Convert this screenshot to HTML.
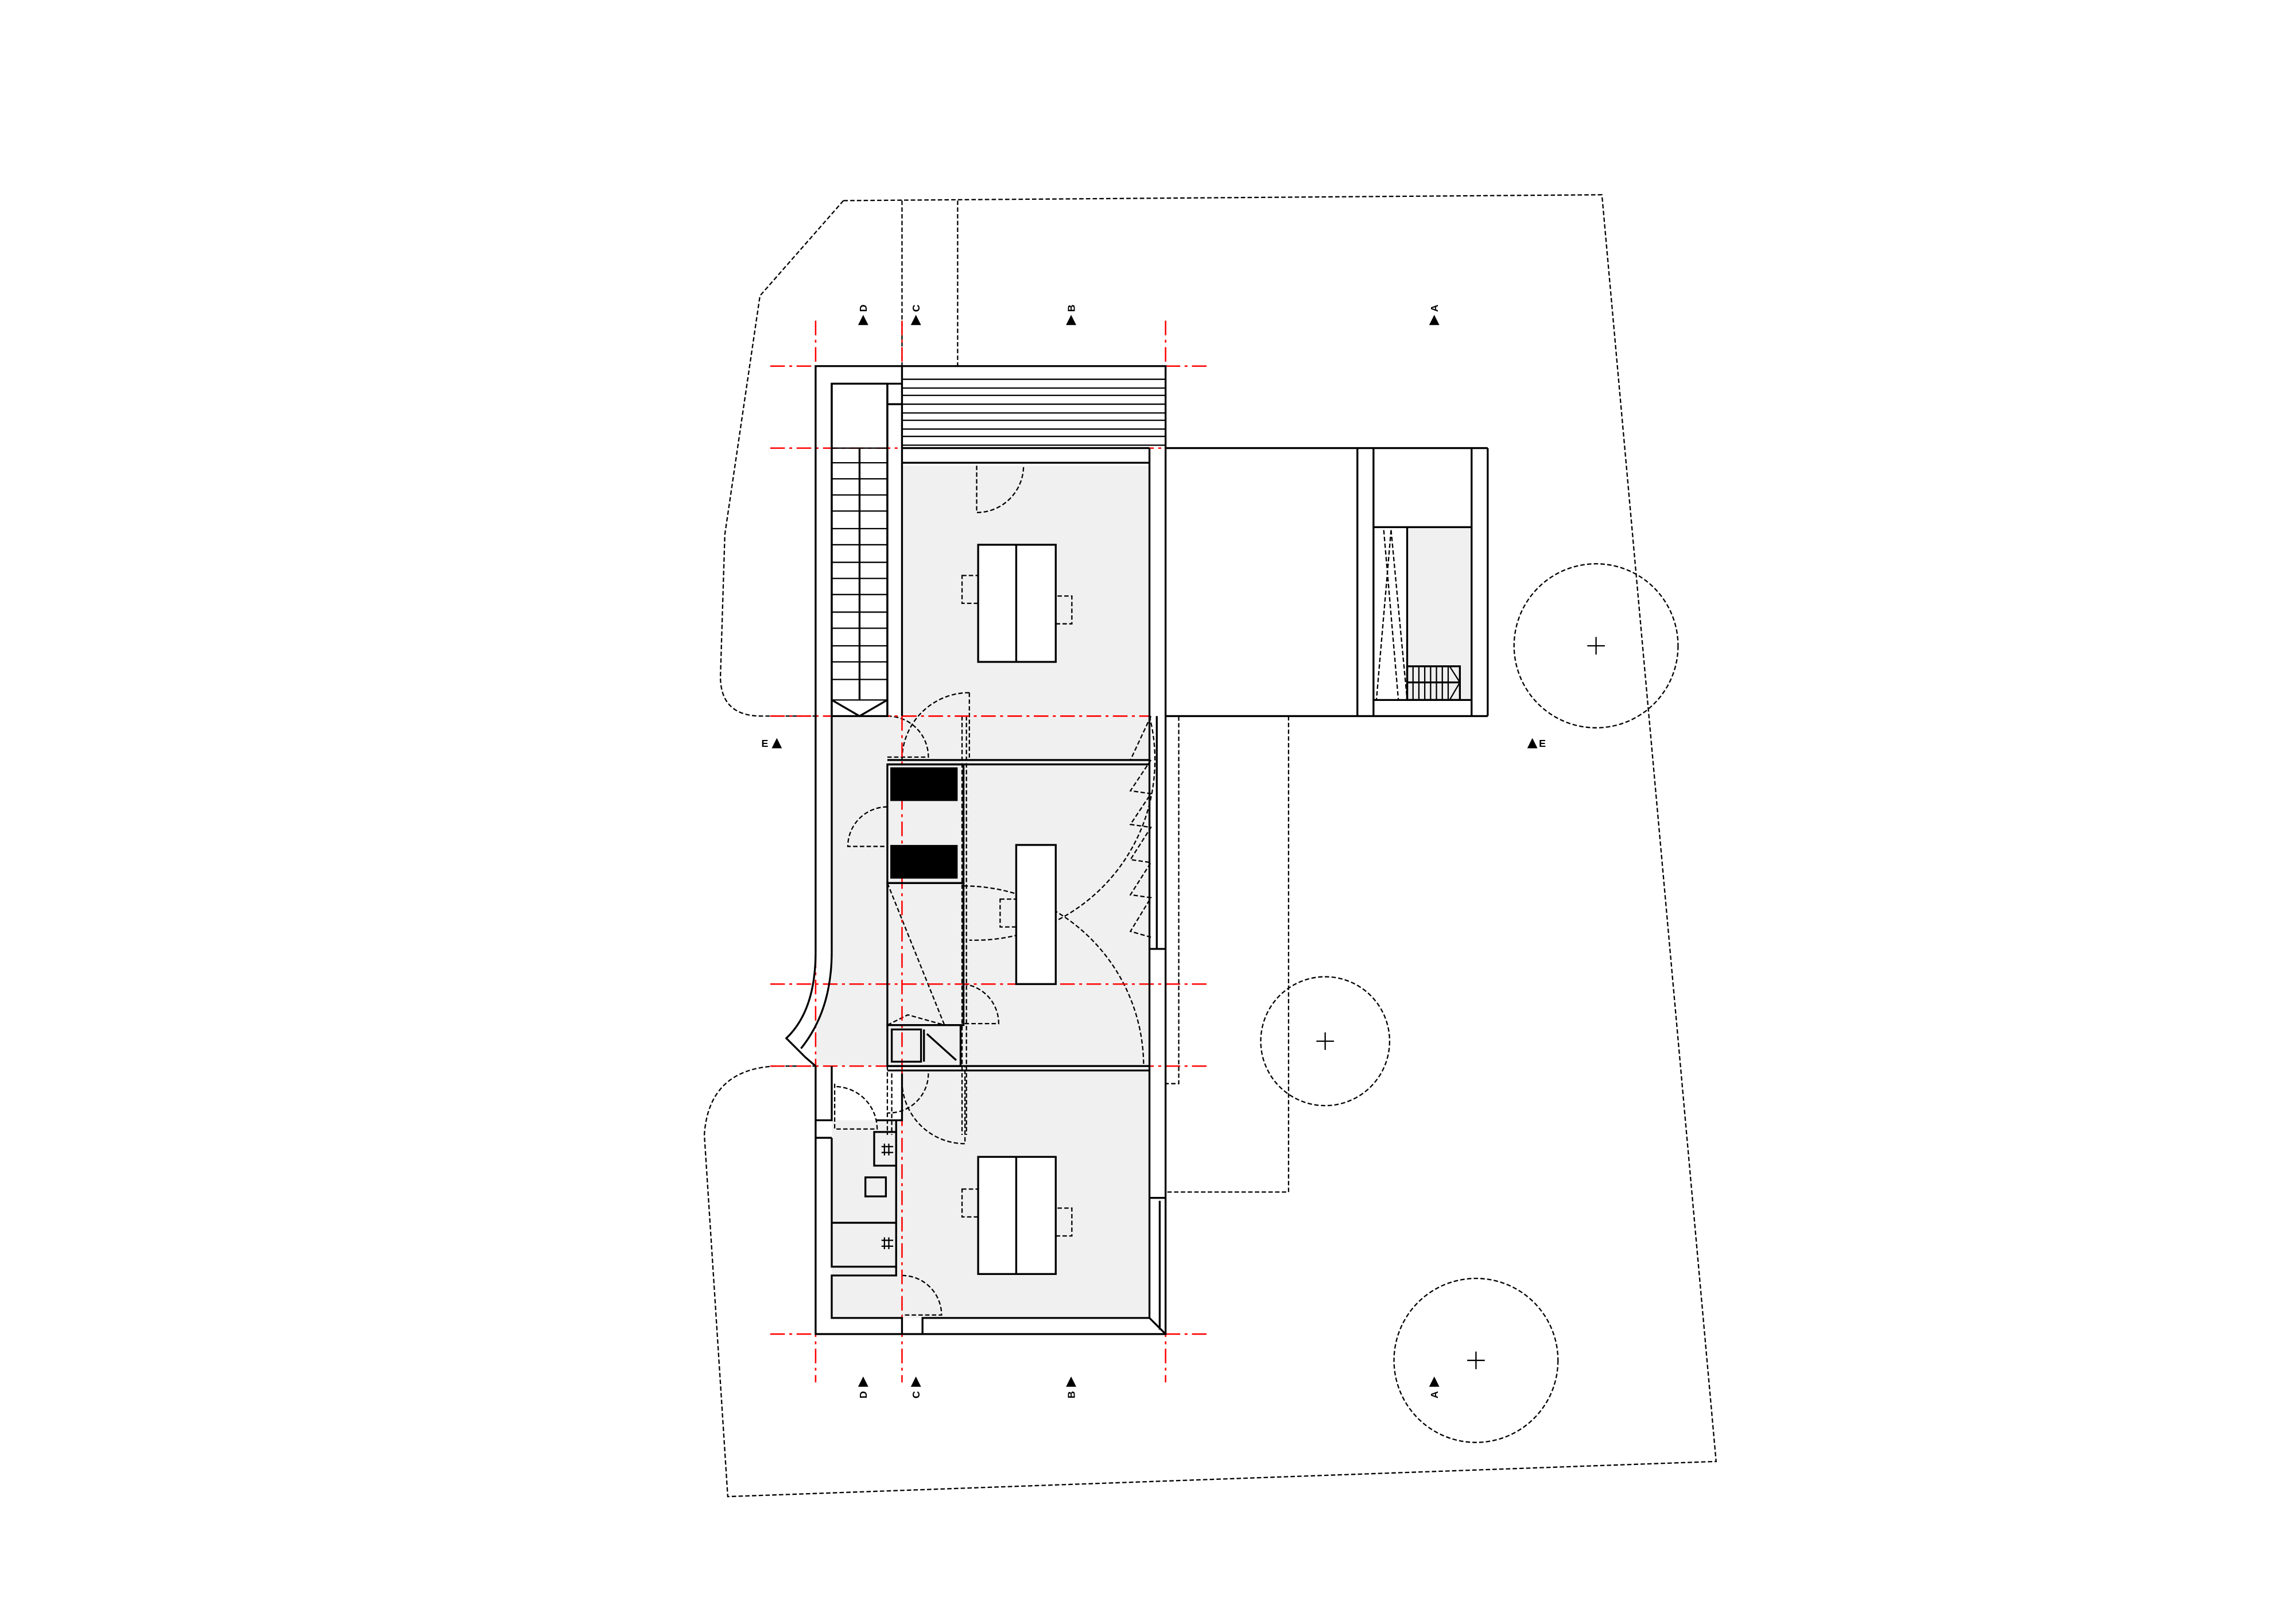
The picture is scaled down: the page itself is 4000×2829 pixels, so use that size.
<!DOCTYPE html>
<html><head><meta charset="utf-8"><style>
html,body{margin:0;padding:0;background:#fff;}
svg{display:block;}
text{font-family:"Liberation Sans",sans-serif;font-weight:bold;font-size:7px;}
</style></head><body>
<svg width="4000" height="2829" viewBox="0 0 1568 1109" xmlns="http://www.w3.org/2000/svg">
<rect x="0" y="0" width="1568" height="1109" fill="#fff"/>
<g fill="#f0f0f0">
<rect x="616" y="318" width="169" height="171"/>
<rect x="568" y="489" width="217" height="183"/>
<path d="M568 672 L785 672 L785 728 L557 728 L557 705 Z"/>
<rect x="616" y="731" width="169" height="169"/>
<rect x="568" y="765" width="48" height="135"/>
<rect x="961" y="360" width="44" height="118"/>
</g>
<g fill="none" stroke="#000" stroke-width="0.9" stroke-dasharray="3,1.6">
<path d="M576 137 L1094 133 L1172 998 L497 1022 L481 775 Q484 730 530 728 L557 728"/>
<path d="M576 137 L519 202 L495 365 L492 462 Q492 489 520 489 L557 489"/>
<line x1="616" y1="137" x2="616" y2="250"/>
<line x1="654" y1="137" x2="654" y2="250"/>
<circle cx="1090" cy="441" r="56"/>
<circle cx="905" cy="711" r="44"/>
<circle cx="1008" cy="929" r="56"/>
<path d="M880 489 L880 814 L796 814"/>
<rect x="796" y="489" width="9" height="251"/>
<path d="M667 318 L667 350 A32 32 0 0 0 699 318"/>
<path d="M662 473 L662 519 M662 473 A46 46 0 0 0 616 519"/>
<path d="M606 489 A28 28 0 0 1 634 517 L606 517"/>
<path d="M606 551 A27 27 0 0 0 579 578 L606 578"/>
<path d="M658 605 A123 123 0 0 1 781 728"/>
<path d="M785 489 A123 123 0 0 1 662 642"/>
<path d="M658 672 A27 27 0 0 1 682 699 L658 699"/>
<path d="M634 733 A27 27 0 0 1 606 760"/>
<path d="M616 738 A43 43 0 0 0 659 781 L659 728"/>
<path d="M570 740 L570 771 L599 771 A29 29 0 0 0 570 742"/>
<path d="M616 871 A27 27 0 0 1 643 898 L616 898"/>
<path d="M786 519 L772 540 L786 542 L772 563 L786 565 L772 587 L786 589 L772 611 L786 613 L772 636 L786 640"/>
<path d="M786 489 L772 519"/>
<path d="M606 603 L645 700 M606 700 L620 693 L645 700"/>
<line x1="657" y1="489" x2="657" y2="775"/>
<line x1="660" y1="489" x2="660" y2="775"/>
<line x1="606" y1="700" x2="606" y2="775"/>
<line x1="609" y1="733" x2="609" y2="775"/>
<rect x="657" y="393" width="19" height="19"/>
<rect x="713" y="407" width="19" height="19"/>
<rect x="683" y="614" width="19" height="19"/>
<rect x="657" y="812" width="19" height="19"/>
<rect x="713" y="825" width="19" height="19"/>
<path d="M950 362 L940 478 M950 362 L961 478 M945 362 L955 478"/>
</g>
<g stroke="#f00" stroke-width="1" stroke-dasharray="10,3,2,3" fill="none">
<line x1="526" y1="250" x2="826" y2="250"/>
<line x1="526" y1="306" x2="796" y2="306"/>
<line x1="526" y1="489" x2="785" y2="489"/>
<line x1="526" y1="672" x2="826" y2="672"/>
<line x1="526" y1="728" x2="826" y2="728"/>
<line x1="526" y1="911" x2="826" y2="911"/>
<line x1="557" y1="219" x2="557" y2="944"/>
<line x1="616" y1="219" x2="616" y2="944"/>
<line x1="796" y1="219" x2="796" y2="944"/>
</g>
<g fill="none" stroke="#000" stroke-width="1.3">
<path d="M557 650 L557 250 L796 250 L796 911 L557 911 L557 728"/>
<path d="M557 650 Q557 690 537 709 L550 722 L557 728"/>
<path d="M568 650 Q568 690 547 716"/>
<line x1="568" y1="262" x2="568" y2="650"/>
<rect x="568" y="262" width="38" height="227"/>
<line x1="587" y1="306" x2="587" y2="478"/>
<path d="M568 478 L587 489 L606 478"/>
<line x1="606" y1="262" x2="616" y2="262"/>
<line x1="606" y1="276" x2="616" y2="276"/>
<line x1="616" y1="250" x2="616" y2="489"/>
<line x1="606" y1="262" x2="606" y2="489"/>
<line x1="616" y1="306" x2="785" y2="306"/>
<line x1="616" y1="316" x2="785" y2="316"/>
<line x1="785" y1="306" x2="785" y2="900"/>
<line x1="790" y1="489" x2="790" y2="648"/>
<line x1="785" y1="648" x2="796" y2="648"/>
<line x1="785" y1="818" x2="796" y2="818"/>
<line x1="792" y1="820" x2="792" y2="908"/>
<path d="M630 911 L630 900 L785 900 L796 911"/>
<line x1="796" y1="306" x2="1016" y2="306"/>
<line x1="796" y1="489" x2="1016" y2="489"/>
<line x1="1016" y1="306" x2="1016" y2="489"/>
<line x1="927" y1="306" x2="927" y2="489"/>
<line x1="938" y1="306" x2="938" y2="489"/>
<line x1="1005" y1="306" x2="1005" y2="489"/>
<line x1="938" y1="360" x2="1005" y2="360"/>
<line x1="961" y1="360" x2="961" y2="478"/>
<line x1="938" y1="478" x2="1005" y2="478"/>
<rect x="961" y="455" width="36" height="23"/>
<line x1="961" y1="466" x2="997" y2="466"/>
<line x1="606" y1="519" x2="785" y2="519"/>
<line x1="606" y1="522" x2="785" y2="522"/>
<line x1="606" y1="728" x2="785" y2="728"/>
<line x1="606" y1="731" x2="785" y2="731"/>
<rect x="606" y="522" width="52" height="81"/>
<rect x="606" y="603" width="52" height="97"/>
<rect x="606" y="700" width="50" height="28"/>
<rect x="609" y="703" width="20" height="22"/>
<line x1="631" y1="703" x2="631" y2="725"/>
<line x1="633" y1="706" x2="653" y2="724"/>
<path d="M568 728 L568 765 L557 765"/>
<path d="M568 777 L568 865 L612 865 M568 835 L612 835 M612 765 L612 871 L568 871 L568 900 L616 900 L616 911"/>
<path d="M568 777 L557 777 M598 765 L616 765 L616 733"/>
<rect x="597" y="773" width="15" height="23"/>
<rect x="591" y="804" width="14" height="13"/>
<rect x="668" y="372" width="53" height="80" fill="#fff"/>
<line x1="694" y1="372" x2="694" y2="452"/>
<rect x="694" y="577" width="27" height="95" fill="#fff"/>
<rect x="668" y="790" width="53" height="80" fill="#fff"/>
<line x1="694" y1="790" x2="694" y2="870"/>
</g>
<g fill="#000">
<rect x="608" y="524" width="46" height="23"/>
<rect x="608" y="577" width="46" height="23"/>
</g>
<g stroke="#000" stroke-width="0.9">
<line x1="616" y1="259" x2="796" y2="259"/><line x1="616" y1="265" x2="796" y2="265"/>
<line x1="616" y1="270" x2="796" y2="270"/><line x1="616" y1="276" x2="796" y2="276"/>
<line x1="616" y1="282" x2="796" y2="282"/><line x1="616" y1="287" x2="796" y2="287"/>
<line x1="616" y1="293" x2="796" y2="293"/><line x1="616" y1="298" x2="796" y2="298"/>
<line x1="616" y1="304" x2="796" y2="304"/>
<line x1="568" y1="306" x2="606" y2="306"/>
<line x1="568" y1="316" x2="606" y2="316"/><line x1="568" y1="327" x2="606" y2="327"/>
<line x1="568" y1="338" x2="606" y2="338"/><line x1="568" y1="349" x2="606" y2="349"/>
<line x1="568" y1="361" x2="606" y2="361"/><line x1="568" y1="372" x2="606" y2="372"/>
<line x1="568" y1="384" x2="606" y2="384"/><line x1="568" y1="395" x2="606" y2="395"/>
<line x1="568" y1="406" x2="606" y2="406"/><line x1="568" y1="418" x2="606" y2="418"/>
<line x1="568" y1="429" x2="606" y2="429"/><line x1="568" y1="441" x2="606" y2="441"/>
<line x1="568" y1="452" x2="606" y2="452"/><line x1="568" y1="464" x2="606" y2="464"/>
<line x1="568" y1="478" x2="606" y2="478"/>
<line x1="965" y1="455" x2="965" y2="478"/><line x1="969" y1="455" x2="969" y2="478"/>
<line x1="973" y1="455" x2="973" y2="478"/><line x1="977" y1="455" x2="977" y2="478"/>
<line x1="981" y1="455" x2="981" y2="478"/><line x1="985" y1="455" x2="985" y2="478"/>
<line x1="989" y1="455" x2="989" y2="478"/>
<path d="M990 455 L997 466 L990 478" fill="none"/>
<path d="M1084 441 h12 M1090 435 v12 M899 711 h12 M905 705 v12 M1002 929 h12 M1008 923 v12" fill="none"/>
<path d="M602 783 h8 M602 787 h8 M604 781 v8 M607 781 v8 M602 847 h8 M602 851 h8 M604 845 v8 M607 845 v8"/>
</g>
<g fill="#000">
<polygon points="586,222 593,222 589.5,215"/>
<polygon points="622,222 629,222 625.5,215"/>
<polygon points="728,222 735,222 731.5,215"/>
<polygon points="976,222 983,222 979.5,215"/>
<g transform="translate(592,213) rotate(-90)"><text x="0" y="0">D</text></g>
<g transform="translate(628,213) rotate(-90)"><text x="0" y="0">C</text></g>
<g transform="translate(734,213) rotate(-90)"><text x="0" y="0">B</text></g>
<g transform="translate(982,213) rotate(-90)"><text x="0" y="0">A</text></g>
<polygon points="586,947 593,947 589.5,940"/>
<polygon points="622,947 629,947 625.5,940"/>
<polygon points="728,947 735,947 731.5,940"/>
<polygon points="976,947 983,947 979.5,940"/>
<g transform="translate(592,955) rotate(-90)"><text x="0" y="0">D</text></g>
<g transform="translate(628,955) rotate(-90)"><text x="0" y="0">C</text></g>
<g transform="translate(734,955) rotate(-90)"><text x="0" y="0">B</text></g>
<g transform="translate(982,955) rotate(-90)"><text x="0" y="0">A</text></g>
<text x="520" y="510">E</text>
<polygon points="527,511 534,511 530.5,504"/>
<polygon points="1043,511 1050,511 1046.5,504"/>
<text x="1051" y="510">E</text>
</g>
</svg>
</body></html>
